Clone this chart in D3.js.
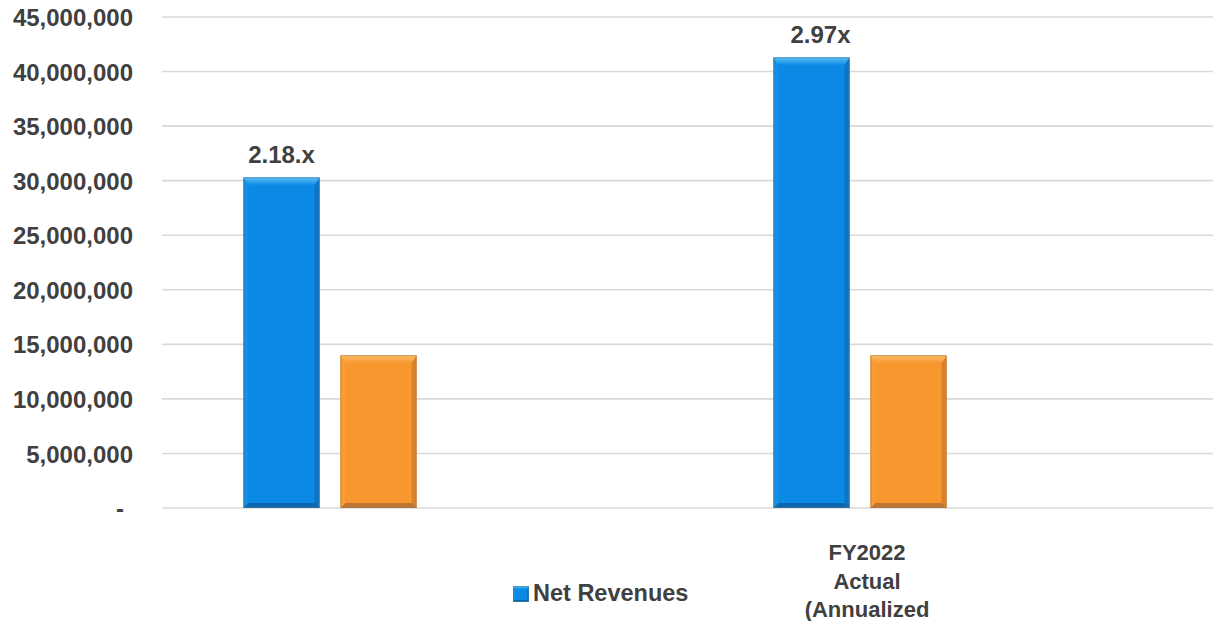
<!DOCTYPE html>
<html><head><meta charset="utf-8">
<script src="https://cdn.jsdelivr.net/npm/d3@7"></script>
<style>html,body{margin:0;padding:0;background:#fff;overflow:hidden}</style>
</head><body>
<svg id="chart" width="1213" height="621"></svg>
<script>
// ---- data ----
const categories = ["FY2021", "FY2022 Actual (Annualized"];
const categoryLabelLines = [[], ["FY2022", "Actual", "(Annualized"]];
const seriesNames = ["Net Revenues", "Comparison", "Series 3", "Series 4"];
const netRevenues = [30300000, 41300000];
const comparison = [14000000, 14000000];
const multipleLabels = ["2.18.x", "2.97x"];
const yTicks = [0, 5000000, 10000000, 15000000, 20000000, 25000000, 30000000, 35000000, 40000000, 45000000];

const svg = d3.select("#chart");
const W = 1213, H = 621;
const plot = {left: 162, right: 1222, top: 17, bottom: 508};
const textColor = "#404040";
const fontFam = "'Liberation Sans', Arial, sans-serif";

const y = d3.scaleLinear().domain([0, 45000000]).range([plot.bottom, plot.top]);
const x = d3.scaleBand().domain(categories).range([plot.left, plot.right]).paddingInner(0).paddingOuter(0);
const xs = d3.scaleBand().domain(seriesNames).range([0, x.bandwidth()]).paddingInner(0.216).paddingOuter(0.84);

const defs = svg.append("defs");

// gridlines
svg.append("g").selectAll("line").data(yTicks).join("line")
  .attr("x1", plot.left).attr("x2", W)
  .attr("y1", d => y(d)).attr("y2", d => y(d))
  .attr("stroke", "#d9d9d9").attr("stroke-width", 1.6);

// y axis labels
const fmt = d3.format(",");
const yAxis = d3.axisLeft(y).tickValues(yTicks).tickSize(0).tickPadding(0)
  .tickFormat(d => d === 0 ? "-" : fmt(d));
const gy = svg.append("g").attr("transform", "translate(133,0)").call(yAxis);
gy.select(".domain").remove();
gy.selectAll("text").attr("font-family", fontFam).attr("font-size", 24).attr("font-weight", "bold")
  .attr("fill", textColor).attr("dy", "0.36em")
  .attr("dx", d => d === 0 ? -9 : 0);

// bevel bar drawing
const palettes = {
  blue: {id: "b", main: "#0a8ae4", topLight: "#5cc0f7", left: "#1190e8", right: "#0a74c6", bottom: "#0b66ad", edge: "#557a98"},
  orange: {id: "o", main: "#f9972f", topLight: "#fec06a", left: "#fa9c36", right: "#d9822c", bottom: "#bd7532", edge: "#9a7a5a"}
};
Object.values(palettes).forEach(p => {
  const g = defs.append("linearGradient").attr("id", "top" + p.id).attr("x1", 0).attr("y1", 0).attr("x2", 0).attr("y2", 1);
  g.append("stop").attr("offset", 0).attr("stop-color", p.topLight);
  g.append("stop").attr("offset", 1).attr("stop-color", p.main);
});
function bevelBar(g, x0, y0, w, h, pal, scale) {
  const k = scale || 1;
  const bt = Math.min(8 * k, h / 2), bs = Math.min(5 * k, w / 2), bb = Math.min(5 * k, h / 2);
  const x1 = x0 + w, y1 = y0 + h;
  g.append("rect").attr("x", x0).attr("y", y0).attr("width", w).attr("height", h).attr("fill", pal.main);
  const poly = (pts, c) => g.append("polygon").attr("points", pts.map(p => p.join(",")).join(" ")).attr("fill", c);
  poly([[x0, y0], [x0 + bs, y0 + bt], [x0 + bs, y1 - bb], [x0, y1]], pal.left);
  poly([[x1, y0], [x1, y1], [x1 - bs, y1 - bb], [x1 - bs, y0 + bt]], pal.right);
  poly([[x0, y1], [x0 + bs, y1 - bb], [x1 - bs, y1 - bb], [x1, y1]], pal.bottom);
  poly([[x0, y0], [x1, y0], [x1 - bs, y0 + bt], [x0 + bs, y0 + bt]], "url(#top" + pal.id + ")");
  g.append("rect").attr("x", x0 + 0.5).attr("y", y0 + 0.5).attr("width", w - 1).attr("height", h - 1)
    .attr("fill", "none").attr("stroke", pal.edge).attr("stroke-opacity", 0.55).attr("stroke-width", 1);
}

const bars = svg.append("g");
categories.forEach((c, i) => {
  const vals = [[seriesNames[0], netRevenues[i], palettes.blue], [seriesNames[1], comparison[i], palettes.orange]];
  vals.forEach(([s, v, pal]) => {
    const bx = x(c) + xs(s);
    bevelBar(bars, bx, y(v), xs.bandwidth(), y(0) - y(v), pal);
  });
  // data label above blue bar
  svg.append("text")
    .attr("x", x(c) + xs(seriesNames[0]) + xs.bandwidth() / 2 + (i === 1 ? 9 : 0))
    .attr("y", y(netRevenues[i]) - 14)
    .attr("text-anchor", "middle").attr("font-family", fontFam).attr("font-size", 24)
    .attr("font-weight", "bold").attr("fill", textColor).text(multipleLabels[i]);
  // category labels
  const cx = x(c) + x.bandwidth() / 2 - 90;
  categoryLabelLines[i].forEach((ln, k) => {
    svg.append("text").attr("x", cx).attr("y", 560 + k * 28.5)
      .attr("text-anchor", "middle").attr("font-family", fontFam).attr("font-size", 22)
      .attr("font-weight", "bold").attr("fill", textColor).text(ln);
  });
});

// legend
const lg = svg.append("g");
bevelBar(lg, 513, 586, 16, 16, palettes.blue, 0.4);
lg.append("text").attr("x", 533).attr("y", 601).attr("font-family", fontFam).attr("font-size", 23.5)
  .attr("font-weight", "bold").attr("fill", textColor).text(seriesNames[0]);
</script>
</body></html>
